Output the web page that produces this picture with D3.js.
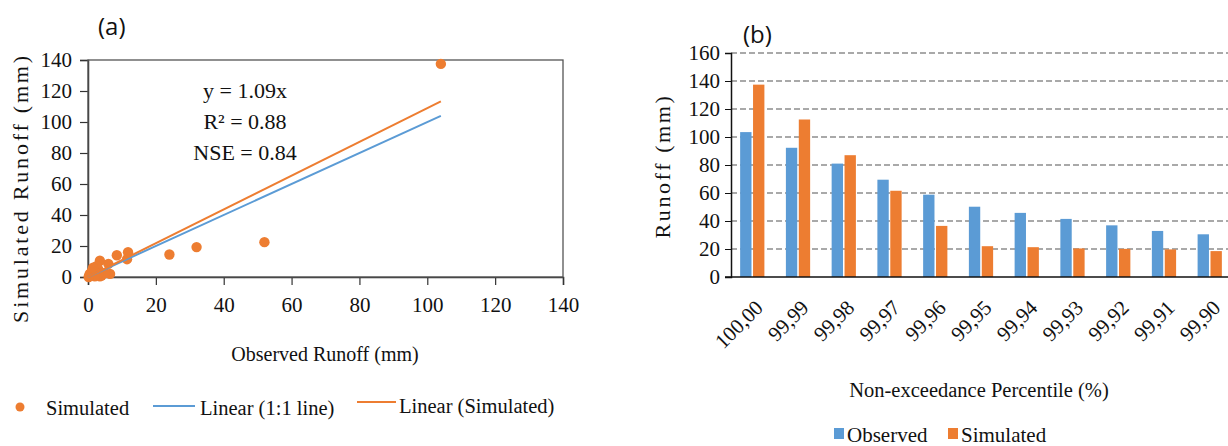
<!DOCTYPE html>
<html><head><meta charset="utf-8">
<script src="https://cdn.jsdelivr.net/npm/d3@7"></script>
<style>body{margin:0;background:#fff}svg{display:block}</style>
</head><body>
<svg id="c" width="1228" height="446" font-family="Liberation Serif"></svg>
<script>
// ---- Chart (a) data: observed vs simulated runoff (mm)
const obsA = [104, 52, 32, 24, 11.8, 11.5, 8.5, 6.5, 6, 3.5, 3.5, 3, 2.5, 2, 1.5, 1.2, 1, 0.5, 0.3, 4, 5, 3, 2, 1, 0.2];
const simA = [137.5, 22.5, 19.3, 14.5, 16, 11.5, 14, 2, 8.5, 10.5, 0.5, 5, 7, 3, 6, 4, 1, 2, 0.5, 1, 2.5, 2, 0.5, 3, 0];
const slopeSim = 1.09;
const trendEnd = 104;
const axisTicksA = [0, 20, 40, 60, 80, 100, 120, 140];
const statsText = ["y = 1.09x", "R\u00b2 = 0.88", "NSE = 0.84"];
// ---- Chart (b) data
const percentiles = ["100,00", "99,99", "99,98", "99,97", "99,96", "99,95", "99,94", "99,93", "99,92", "99,91", "99,90"];
const observedB = [103.5, 92.3, 81, 69.5, 58.8, 50.2, 45.8, 41.5, 36.9, 32.9, 30.5];
const simulatedB = [137.4, 112.5, 87, 61.6, 36.5, 22, 21.3, 20.4, 20.1, 19.7, 18.5];
const axisTicksB = [0, 20, 40, 60, 80, 100, 120, 140, 160];

const BLUE = "#5b9bd5", ORANGE = "#ed7d31";
const SERIF = "Liberation Serif";
const SANS = "Open Sans";
const svg = d3.select("#c");
function txt(g, x, y, s, size, anchor) {
  return g.append("text").attr("x", x).attr("y", y).attr("font-family", SERIF).attr("font-size", size)
    .attr("fill", "#111").attr("text-anchor", anchor || "start").text(s);
}

// ================= Chart (a)
const xA = d3.scaleLinear().domain([0, 140]).range([88, 563]);
const yA = d3.scaleLinear().domain([0, 140]).range([277, 60]);
const gA = svg.append("g");
gA.append("text").attr("x", 98).attr("y", 35).attr("font-family", SANS).attr("font-size", 24).attr("fill", "#111").text("(a)");

const axA = gA.append("g").attr("transform", "translate(0,277)")
  .call(d3.axisBottom(xA).tickValues(axisTicksA).tickSize(8).tickPadding(12).tickFormat(d3.format("d")));
const ayA = gA.append("g").attr("transform", "translate(88,0)")
  .call(d3.axisLeft(yA).tickValues(axisTicksA).tickSize(8).tickPadding(8).tickFormat(d3.format("d")));
[axA, ayA].forEach(a => {
  a.attr("font-family", SERIF).attr("font-size", 21);
  a.selectAll("text").attr("fill", "#111");
  a.selectAll("line").attr("stroke", "#333").attr("stroke-width", 1.2);
  a.select(".domain").attr("stroke", "#333").attr("stroke-width", 1.5);
});
// box
gA.append("rect").attr("x", xA(0)).attr("y", yA(140)).attr("width", xA(140) - xA(0)).attr("height", yA(0) - yA(140))
  .attr("fill", "none").attr("stroke", "#555").attr("stroke-width", 1.3);

// points
gA.selectAll("circle.pt").data(obsA.map((o, i) => [o, simA[i]])).join("circle")
  .attr("class", "pt").attr("cx", d => xA(d[0])).attr("cy", d => yA(d[1])).attr("r", 5.2).attr("fill", ORANGE);
// trend lines
gA.append("line").attr("x1", xA(0)).attr("y1", yA(0)).attr("x2", xA(trendEnd)).attr("y2", yA(trendEnd))
  .attr("stroke", BLUE).attr("stroke-width", 2);
gA.append("line").attr("x1", xA(0)).attr("y1", yA(0)).attr("x2", xA(trendEnd)).attr("y2", yA(trendEnd * slopeSim))
  .attr("stroke", ORANGE).attr("stroke-width", 2);

statsText.forEach((t, i) => txt(gA, 245, 98 + i * 31, t, 22, "middle"));

gA.append("text").attr("transform", "translate(28,188) rotate(-90)").attr("text-anchor", "middle")
  .attr("font-family", SERIF).attr("font-size", 22).attr("letter-spacing", 2.8).attr("fill", "#111").text("Simulated Runoff (mm)");
txt(gA, 325, 361, "Observed Runoff (mm)", 20, "middle");

// legend (a)
gA.append("circle").attr("cx", 20).attr("cy", 407).attr("r", 4.5).attr("fill", ORANGE);
txt(gA, 46, 415, "Simulated", 20.5);
gA.append("line").attr("x1", 153).attr("x2", 195).attr("y1", 406).attr("y2", 406).attr("stroke", BLUE).attr("stroke-width", 2);
txt(gA, 200, 415, "Linear (1:1 line)", 20.5);
gA.append("line").attr("x1", 357).attr("x2", 396).attr("y1", 402).attr("y2", 402).attr("stroke", ORANGE).attr("stroke-width", 2);
txt(gA, 399, 413, "Linear (Simulated)", 20.5);

// ================= Chart (b)
const x0 = d3.scaleBand().domain(percentiles).range([731, 1231]).paddingInner(0.47).paddingOuter(0.2);
const x1 = d3.scaleBand().domain(["obs", "sim"]).range([0, x0.bandwidth()]).paddingInner(0.12);
const yB = d3.scaleLinear().domain([0, 160]).range([277, 53]);
const gB = svg.append("g");
gB.append("text").attr("x", 743).attr("y", 43).attr("font-family", SANS).attr("font-size", 24).attr("fill", "#111").text("(b)");

// gridlines
gB.append("g").selectAll("line").data(axisTicksB.filter(d => d > 0)).join("line")
  .attr("x1", 731).attr("x2", 1228).attr("y1", d => yB(d)).attr("y2", d => yB(d))
  .attr("stroke", "#555").attr("stroke-width", 1.2).attr("stroke-dasharray", "6,3");

const groups = gB.selectAll("g.cat").data(percentiles).join("g").attr("class", "cat")
  .attr("transform", d => `translate(${x0(d)},0)`);
groups.append("rect").attr("x", x1("obs")).attr("width", x1.bandwidth())
  .attr("y", (d, i) => yB(observedB[i])).attr("height", (d, i) => yB(0) - yB(observedB[i])).attr("fill", BLUE);
groups.append("rect").attr("x", x1("sim")).attr("width", x1.bandwidth())
  .attr("y", (d, i) => yB(simulatedB[i])).attr("height", (d, i) => yB(0) - yB(simulatedB[i])).attr("fill", ORANGE);

const ayB = gB.append("g").attr("transform", "translate(731,0)")
  .call(d3.axisLeft(yB).tickValues(axisTicksB).tickSize(6).tickPadding(5).tickFormat(d3.format("d")));
ayB.attr("font-family", SERIF).attr("font-size", 21);
ayB.selectAll("text").attr("fill", "#111");
ayB.selectAll("line").attr("stroke", "#111");
ayB.select(".domain").attr("stroke", "#111").attr("stroke-width", 1.5);

const axB = gB.append("g").attr("transform", "translate(0,277)")
  .call(d3.axisBottom(x0).tickSize(0).tickPadding(0));
axB.attr("font-family", SERIF).attr("font-size", 21);
axB.select(".domain").attr("d", "M725,0H1228").attr("stroke", "#111").attr("stroke-width", 1.5);
axB.selectAll("text").attr("fill", "#111").attr("y", 0).attr("dy", 0)
  .attr("text-anchor", "end").attr("transform", "translate(12,32) rotate(-45)");

gB.append("text").attr("transform", "translate(670,166) rotate(-90)").attr("text-anchor", "middle")
  .attr("font-family", SERIF).attr("font-size", 22).attr("letter-spacing", 2.6).attr("fill", "#111").text("Runoff (mm)");
txt(gB, 979, 397, "Non-exceedance Percentile (%)", 20.5, "middle");

// legend (b)
gB.append("rect").attr("x", 834).attr("y", 428).attr("width", 10).attr("height", 11).attr("fill", BLUE);
txt(gB, 847, 442, "Observed", 21);
gB.append("rect").attr("x", 948).attr("y", 428).attr("width", 10).attr("height", 11).attr("fill", ORANGE);
txt(gB, 961, 442, "Simulated", 21);
</script>
</body></html>
